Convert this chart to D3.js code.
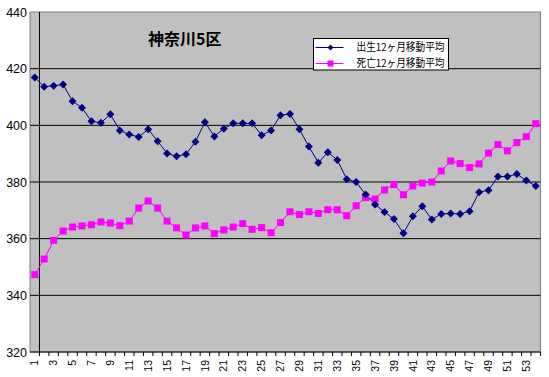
<!DOCTYPE html>
<html>
<head>
<meta charset="utf-8">
<script src="https://cdn.jsdelivr.net/npm/d3@7"></script>
<style>
body { margin: 0; background: #fff; }
text { font-family: "Liberation Sans", Arial, sans-serif; }
.jp { font-family: "Noto Sans CJK JP", sans-serif; }
</style>
</head>
<body>
<div id="root"></div>
<script>
var months = d3.range(1, 55);
var yTicks = [320, 340, 360, 380, 400, 420, 440];
var seriesNames = ["出生12ヶ月移動平均", "死亡12ヶ月移動平均"];
var births = [416.9, 413.6, 414.0, 414.4, 408.5, 406.2, 401.4, 400.9, 403.9, 398.2,
    396.8, 395.9, 398.6, 394.4, 390.1, 389.1, 389.8, 394.2, 401.1, 396.1,
    398.8, 400.7, 400.7, 400.7, 396.5, 398.2, 403.6, 404.0, 398.6, 392.5,
    386.8, 390.5, 387.8, 381.0, 380.0, 375.6, 372.1, 369.4, 366.9, 361.9,
    367.9, 371.4, 366.8, 368.7, 368.9, 368.7, 369.7, 376.4, 377.1, 381.9,
    381.9, 382.8, 380.5, 378.6];
var deaths = [347.3, 352.8, 359.4, 362.7, 364.1, 364.5, 364.9, 365.9, 365.5, 364.6,
    366.2, 370.8, 373.3, 370.8, 366.2, 363.8, 361.3, 363.8, 364.5, 361.8,
    363.1, 364.1, 365.3, 363.3, 363.9, 362.1, 365.7, 369.5, 368.5, 369.5,
    368.9, 370.2, 370.2, 368.1, 371.6, 374.5, 374.0, 377.2, 379.1, 375.5,
    378.6, 379.6, 380.0, 383.9, 387.4, 386.5, 385.1, 386.4, 390.2, 393.2,
    391.0, 393.9, 396.0, 400.6];

var width = 549, height = 377;
var plotL = 30, plotR = 540.5, plotT = 12, plotB = 352;

var svg = d3.select("#root").append("svg")
    .attr("width", width)
    .attr("height", height);

var x = d3.scaleBand().domain(months).range([plotL, plotR]).paddingInner(0).paddingOuter(0);
var y = d3.scaleLinear().domain([320, 440]).range([plotB, plotT]);
var cx = function (d) { return x(d) + x.bandwidth() / 2; };

// plot area
svg.append("rect")
    .attr("x", plotL).attr("y", plotT)
    .attr("width", plotR - plotL).attr("height", plotB - plotT)
    .attr("fill", "#c0c0c0")
    .attr("stroke", "#808080");

// gridlines
svg.append("g").selectAll("line")
    .data(yTicks.slice(1, -1))
    .enter().append("line")
    .attr("x1", plotL).attr("x2", plotR)
    .attr("y1", function (d) { return y(d); })
    .attr("y2", function (d) { return y(d); })
    .attr("stroke", "#000");

// y axis labels
var yAxis = d3.axisLeft(y).tickValues(yTicks).tickSize(0).tickPadding(3);
svg.append("g")
    .attr("transform", "translate(" + plotL + ",0)")
    .call(yAxis)
    .call(function (g) { g.select(".domain").remove(); })
    .selectAll("text")
    .style("font-size", "12.5px")
    .attr("fill", "#000");

// vertical axis line crossing between 1 and 2
svg.append("line")
    .attr("x1", x(2)).attr("x2", x(2))
    .attr("y1", plotT).attr("y2", plotB)
    .attr("stroke", "#000");

// x axis
var xAxis = d3.axisBottom(x).tickSize(0).tickPadding(0)
    .tickFormat(function (d) { return d % 2 === 1 ? d : ""; });
var gx = svg.append("g")
    .attr("transform", "translate(0," + plotB + ")")
    .call(xAxis);
gx.select(".domain").remove();
gx.selectAll("text")
    .attr("transform", "rotate(-90)")
    .attr("text-anchor", "end")
    .attr("x", -8)
    .attr("y", 0)
    .attr("dy", "0.35em")
    .style("font-size", "10.5px")
    .attr("fill", "#000");

svg.append("line")
    .attr("x1", plotL).attr("x2", plotR)
    .attr("y1", plotB).attr("y2", plotB)
    .attr("stroke", "#000");
svg.append("g").selectAll("line")
    .data(months.slice(1).concat([55]))
    .enter().append("line")
    .attr("x1", function (d) { return d === 55 ? plotR : x(d); })
    .attr("x2", function (d) { return d === 55 ? plotR : x(d); })
    .attr("y1", plotB).attr("y2", plotB + 4)
    .attr("stroke", "#000");

// lines
var line = d3.line()
    .x(function (d, i) { return cx(months[i]); })
    .y(function (d) { return y(d); });

svg.append("path").datum(deaths)
    .attr("d", line).attr("fill", "none")
    .attr("stroke", "#ff00ff").attr("stroke-width", 1);
svg.append("path").datum(births)
    .attr("d", line).attr("fill", "none")
    .attr("stroke", "#000080").attr("stroke-width", 1);

var diamond = "M0,-4L4,0L0,4L-4,0Z";

svg.append("g").selectAll("rect")
    .data(deaths)
    .enter().append("rect")
    .attr("x", function (d, i) { return cx(months[i]) - 3.5; })
    .attr("y", function (d) { return y(d) - 3.5; })
    .attr("width", 7).attr("height", 7)
    .attr("fill", "#ff00ff");

svg.append("g").selectAll("path")
    .data(births)
    .enter().append("path")
    .attr("d", diamond)
    .attr("transform", function (d, i) { return "translate(" + cx(months[i]) + "," + y(d) + ")"; })
    .attr("fill", "#000080");

// title
svg.append("text")
    .attr("class", "jp")
    .attr("x", 148).attr("y", 45)
    .style("font-size", "16px")
    .style("font-weight", "bold")
    .text("神奈川5区");

// legend
var lg = svg.append("g").attr("transform", "translate(313.5,38.5)");
lg.append("rect")
    .attr("width", 135).attr("height", 31.5)
    .attr("fill", "#fff").attr("stroke", "#000");
var colors = ["#000080", "#ff00ff"];
seriesNames.forEach(function (name, i) {
    var row = lg.append("g").attr("transform", "translate(0," + (9 + i * 16) + ")");
    row.append("line").attr("x1", 2).attr("x2", 30).attr("stroke", colors[i]);
    if (i === 0) {
        row.append("path").attr("d", "M0,-3L3,0L0,3L-3,0Z")
            .attr("transform", "translate(17,0)").attr("fill", colors[i]);
    } else {
        row.append("rect").attr("x", 14).attr("y", -3).attr("width", 6).attr("height", 6)
            .attr("fill", colors[i]);
    }
    row.append("text").attr("class", "jp")
        .attr("x", 43).attr("dy", "0.36em")
        .attr("textLength", 88)
        .attr("lengthAdjust", "spacingAndGlyphs")
        .style("font-size", "11px")
        .text(name);
});
</script>
</body>
</html>
